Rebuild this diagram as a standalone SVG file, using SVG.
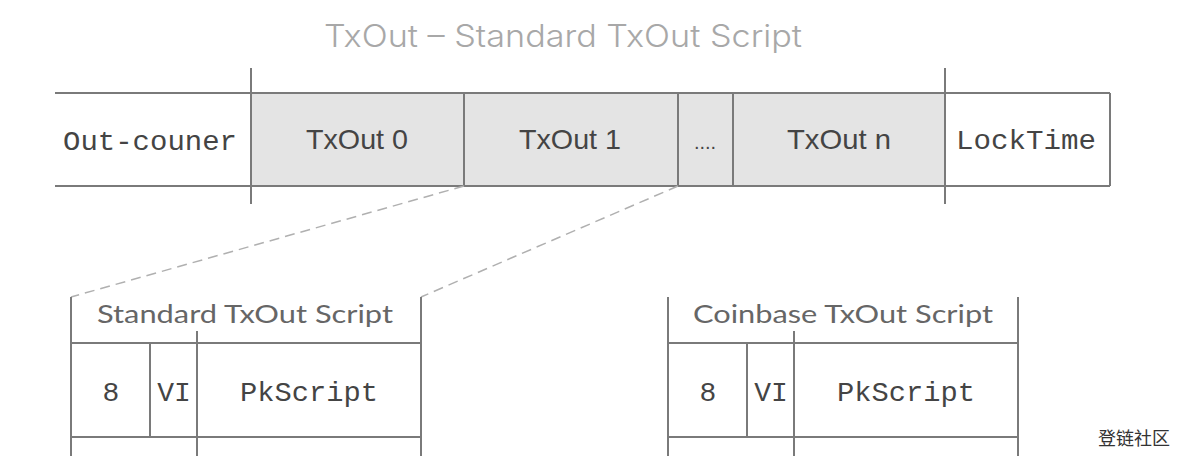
<svg xmlns="http://www.w3.org/2000/svg" width="1186" height="456" viewBox="0 0 1186 456">
<style>
.ln{stroke:#7a7a7a;stroke-width:2;fill:none}
.dash{stroke:#b0b0b0;stroke-width:1.5;stroke-dasharray:10 6;fill:none}
.mono{font-family:"Liberation Mono","DejaVu Sans Mono",monospace;font-size:28px;fill:#444;text-anchor:middle}
.sans{font-family:"Liberation Sans",Arial,sans-serif;font-size:28px;fill:#444;text-anchor:middle}
.hdr{font-family:Lato,"Open Sans",sans-serif;font-size:25px;fill:#666;text-anchor:middle}
.title{font-family:Inter,"Liberation Sans",sans-serif;font-weight:300;font-size:31px;fill:#a8a8a8;text-anchor:middle}
</style>
<rect width="1186" height="456" fill="#fff"/>
<text class="title" x="563" y="47" textLength="478" lengthAdjust="spacingAndGlyphs">TxOut – Standard TxOut Script</text>
<g id="txout-row">
<rect x="251" y="93" width="694" height="93" fill="#e4e4e4"/>
<line class="ln" x1="55" y1="93" x2="1110" y2="93"/>
<line class="ln" x1="55" y1="186" x2="1110" y2="186"/>
<line class="ln" x1="1110" y1="93" x2="1110" y2="186"/>
<line class="ln" x1="251" y1="68" x2="251" y2="204"/>
<line class="ln" x1="945" y1="68" x2="945" y2="204"/>
<line class="ln" x1="464" y1="93" x2="464" y2="186"/>
<line class="ln" x1="678" y1="93" x2="678" y2="186"/>
<line class="ln" x1="733" y1="93" x2="733" y2="186"/>
</g>
<g id="out-counter"><text class="mono" x="150" y="150" textLength="174" lengthAdjust="spacingAndGlyphs">Out-couner</text></g>
<g id="txout0"><text class="sans" x="357" y="149" textLength="102" lengthAdjust="spacingAndGlyphs">TxOut 0</text></g>
<g id="txout1"><text class="sans" x="570" y="149" textLength="102" lengthAdjust="spacingAndGlyphs">TxOut 1</text></g>
<g id="dots"><text class="sans" x="705" y="149" style="font-size:20px">....</text></g>
<g id="txoutn"><text class="sans" x="839" y="149" textLength="104" lengthAdjust="spacingAndGlyphs">TxOut n</text></g>
<g id="locktime"><text class="mono" x="1026" y="149" textLength="140" lengthAdjust="spacingAndGlyphs">LockTime</text></g>
<g id="connectors">
<line class="dash" x1="464" y1="186" x2="71" y2="297"/>
<line class="dash" x1="678" y1="186" x2="421" y2="297"/>
</g>
<g id="standard-script">
<line class="ln" x1="71" y1="297" x2="71" y2="456"/>
<line class="ln" x1="421" y1="297" x2="421" y2="456"/>
<line class="ln" x1="71" y1="343" x2="421" y2="343"/>
<line class="ln" x1="71" y1="437" x2="421" y2="437"/>
<line class="ln" x1="150" y1="343" x2="150" y2="437"/>
<line class="ln" x1="197" y1="331" x2="197" y2="456"/>
<text class="hdr" x="245" y="323" textLength="296" lengthAdjust="spacingAndGlyphs">Standard TxOut Script</text>
<text class="mono" x="111" y="401">8</text>
<text class="mono" x="174" y="401">VI</text>
<text class="mono" x="309" y="401" textLength="138" lengthAdjust="spacingAndGlyphs">PkScript</text>
</g>
<g id="coinbase-script">
<line class="ln" x1="668" y1="297" x2="668" y2="456"/>
<line class="ln" x1="1018" y1="297" x2="1018" y2="456"/>
<line class="ln" x1="668" y1="343" x2="1018" y2="343"/>
<line class="ln" x1="668" y1="437" x2="1018" y2="437"/>
<line class="ln" x1="747" y1="343" x2="747" y2="437"/>
<line class="ln" x1="794" y1="331" x2="794" y2="456"/>
<text class="hdr" x="843" y="323" textLength="300" lengthAdjust="spacingAndGlyphs">Coinbase TxOut Script</text>
<text class="mono" x="708" y="401">8</text>
<text class="mono" x="771" y="401">VI</text>
<text class="mono" x="906" y="401" textLength="138" lengthAdjust="spacingAndGlyphs">PkScript</text>
</g>
<text x="1134" y="445" font-family="'Noto Sans CJK SC',sans-serif" font-size="18" fill="#333" text-anchor="middle">登链社区</text>
</svg>
